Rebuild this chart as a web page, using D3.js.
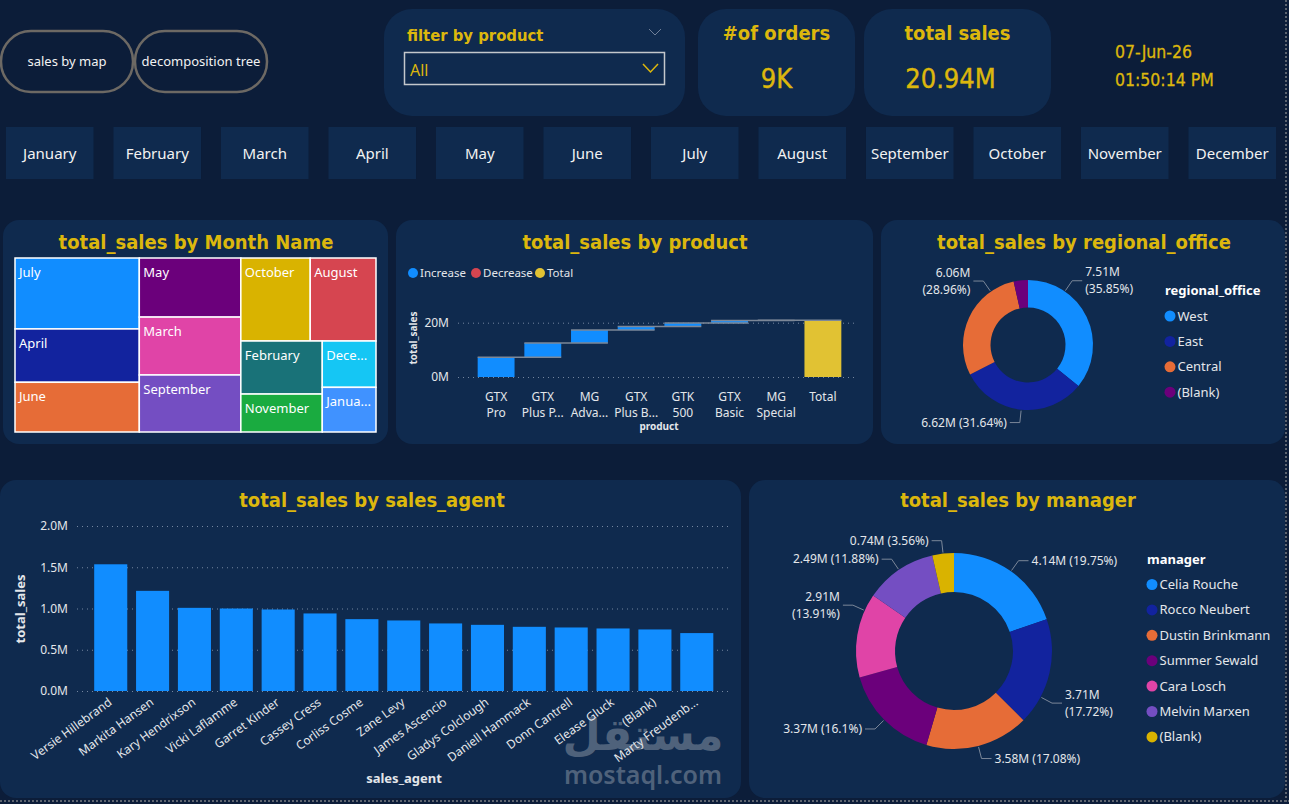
<!DOCTYPE html>
<html>
<head>
<meta charset="utf-8">
<script src="https://cdn.jsdelivr.net/npm/d3@7"></script>
<style>
  body { margin: 0; background: #0c1d39; overflow: hidden; }
  svg text { font-family: "Segoe UI", "Noto Sans", sans-serif; }
  svg text.din { font-family: "DejaVu Sans Condensed", "DejaVu Sans", sans-serif; font-stretch: condensed; }
</style>
</head>
<body>
<svg id="dash" width="1289" height="804"></svg>
<script>
// ---- data ----
const months = ["January", "February", "March", "April", "May", "June", "July",
                "August", "September", "October", "November", "December"];
const monthSales = [0.80, 1.44, 1.96, 2.21, 2.00, 2.06, 2.94, 1.82, 1.93, 1.92, 1.03, 0.83]; // M

const products = ["GTX Pro", "GTX Plus Pro", "MG Advanced", "GTX Plus Basic", "GTK 500", "GTX Basic", "MG Special"];
const productSales = [7.30, 5.24, 4.75, 1.34, 1.22, 0.97, 0.12]; // M

const offices = ["West", "East", "Central", "(Blank)"];
const officeSales = [7505600, 6624200, 6063100, 743100];

const managers = ["Celia Rouche", "Rocco Neubert", "Dustin Brinkmann", "Summer Sewald", "Cara Losch", "Melvin Marxen", "(Blank)"];
const managerSales = [4135700, 3710600, 3576600, 3371300, 2912800, 2487700, 744800];

const agents = ["Versie Hillebrand", "Markita Hansen", "Kary Hendrixson", "Vicki Laflamme", "Garret Kinder",
                "Cassey Cress", "Corliss Cosme", "Zane Levy", "James Ascencio", "Gladys Colclough",
                "Daniell Hammack", "Donn Cantrell", "Elease Gluck", "(Blank)", "Marty Freudenb..."];
const agentSales = [1.536, 1.214, 1.008, 1.000, 0.988, 0.940, 0.871, 0.855, 0.819, 0.802, 0.778, 0.770, 0.758, 0.746, 0.702]; // M

const agentTicks = [0, 0.5, 1.0, 1.5, 2.0];
const productTicks = [0, 20];

const palette = ["#118DFF", "#12239E", "#E66C37", "#6B007B", "#E044A7", "#744EC2",
                 "#D9B300", "#D64550", "#197278", "#1AAB40", "#15C6F4", "#4092FF"];

const PANEL = "#0f2a4e";
const GOLD = "#dcb70d";
const TXT = "#e3e6ea";
const GRID = "#7486a0";

const svg = d3.select("#dash");

function panel(x, y, w, h, r) {
    svg.append("rect").attr("x", x).attr("y", y).attr("width", w).attr("height", h)
        .attr("rx", r).attr("fill", PANEL);
}

function title(cx, y, str) {
    svg.append("text").attr("class", "din").attr("x", cx).attr("y", y)
        .attr("text-anchor", "middle").attr("font-size", 20).attr("font-weight", "bold")
        .attr("fill", GOLD).text(str);
}

// shorten a label until it fits
function fitText(sel, str, maxW) {
    sel.text(str);
    if (sel.node().getComputedTextLength() <= maxW) return;
    let s = str;
    while (s.length > 1) {
        s = s.slice(0, -1);
        sel.text(s.trimEnd() + "...");
        if (sel.node().getComputedTextLength() <= maxW) return;
    }
}

function measure(str, size) {
    const t = svg.append("text").attr("font-size", size).text(str);
    const w = t.node().getComputedTextLength();
    t.remove();
    return w;
}

// ---- top bar ----
[["sales by map", 1], ["decomposition tree", 135]].forEach(([label, x]) => {
    svg.append("rect").attr("x", x).attr("y", 31).attr("width", 132).attr("height", 61)
        .attr("rx", 30).attr("fill", "none").attr("stroke", "#6d6964").attr("stroke-width", 2.5);
    svg.append("text").attr("x", x + 66).attr("y", 66).attr("text-anchor", "middle")
        .attr("font-size", 13).attr("fill", "#f2f2f2").text(label);
});

panel(384, 9, 301, 107, 28);
svg.append("text").attr("class", "din").attr("x", 407).attr("y", 41).attr("font-size", 16.5)
    .attr("font-weight", "bold").attr("fill", GOLD).text("filter by product");
svg.append("path").attr("d", "M649,29 L655,35 L661,29").attr("fill", "none")
    .attr("stroke", "#6f7f98").attr("stroke-width", 1);
svg.append("rect").attr("x", 404.5).attr("y", 52.5).attr("width", 260).attr("height", 32)
    .attr("fill", "none").attr("stroke", "#c4c8cc").attr("stroke-width", 1.5);
svg.append("text").attr("x", 410).attr("y", 76).attr("font-size", 16).attr("fill", GOLD).text("All");
svg.append("path").attr("d", "M643,64 L650.5,72 L658,64").attr("fill", "none")
    .attr("stroke", GOLD).attr("stroke-width", 1.5);

[["#of orders", "9K", 698, 157], ["total sales", "20.94M", 864, 187]].forEach(([t, v, x, w]) => {
    panel(x, 9, w, 107, 28);
    svg.append("text").attr("class", "din").attr("x", x + w / 2).attr("y", 40).attr("text-anchor", "middle")
        .attr("font-size", 20).attr("font-weight", "bold").attr("fill", GOLD).text(t);
    svg.append("text").attr("class", "din").attr("x", x + w / 2 - (v.length > 3 ? 7 : 0)).attr("y", 88)
        .attr("text-anchor", "middle").attr("font-size", 27).attr("fill", GOLD)
        .attr("stroke", GOLD).attr("stroke-width", 0.4).text(v);
});

svg.append("text").attr("class", "din").attr("x", 1115).attr("y", 58).attr("font-size", 17.5)
    .attr("fill", GOLD).attr("stroke", GOLD).attr("stroke-width", 0.3).text("07-Jun-26");
svg.append("text").attr("class", "din").attr("x", 1115).attr("y", 86).attr("font-size", 17.5)
    .attr("fill", GOLD).attr("stroke", GOLD).attr("stroke-width", 0.3).text("01:50:14 PM");

// month slicer
const xMonth = d3.scaleBand().domain(months).range([6, 1276]).paddingInner(0.186);
svg.selectAll(".mtile").data(months).enter().append("rect")
    .attr("x", d => xMonth(d)).attr("y", 127).attr("width", xMonth.bandwidth()).attr("height", 52)
    .attr("fill", PANEL);
svg.selectAll(".mlab").data(months).enter().append("text")
    .attr("x", d => xMonth(d) + xMonth.bandwidth() / 2).attr("y", 159).attr("text-anchor", "middle")
    .attr("font-size", 15).attr("fill", "#f2f2f2").text(d => d);

// dotted canvas edges
svg.append("line").attr("x1", 1286).attr("x2", 1286).attr("y1", 0).attr("y2", 804)
    .attr("stroke", "#5d6470").attr("stroke-width", 2).attr("stroke-dasharray", "2,2");
svg.append("line").attr("x1", 0).attr("x2", 1289).attr("y1", 801).attr("y2", 801)
    .attr("stroke", "#5d6470").attr("stroke-width", 2).attr("stroke-dasharray", "2,2");

// ---- treemap: total_sales by Month Name ----
panel(3, 220, 385, 224, 16);
title(196, 249, "total_sales by Month Name");

const monthRank = months.slice().sort((a, b) => monthSales[months.indexOf(b)] - monthSales[months.indexOf(a)]);
const monthColor = d3.scaleOrdinal().domain(monthRank).range(palette);

const root = d3.hierarchy({ children: months.map((m, i) => ({ name: m, value: monthSales[i] })) })
    .sum(d => d.value || 0)
    .sort((a, b) => b.value - a.value);
d3.treemap().size([361, 174]).tile(d3.treemapSquarify)(root);

const tm = svg.append("g").attr("transform", "translate(15,258)");
const cells = tm.selectAll("g").data(root.leaves()).enter().append("g")
    .attr("transform", d => `translate(${d.x0},${d.y0})`);
cells.append("rect").attr("width", d => d.x1 - d.x0).attr("height", d => d.y1 - d.y0)
    .attr("fill", d => monthColor(d.data.name)).attr("stroke", "#ffffff").attr("stroke-width", 1.5);
cells.append("text").attr("x", 4).attr("y", 19).attr("font-size", 13).attr("fill", "#ffffff")
    .each(function (d) { fitText(d3.select(this), d.data.name, d.x1 - d.x0 - 8); });

// ---- waterfall: total_sales by product ----
panel(396, 220, 477, 224, 16);
title(635, 249, "total_sales by product");

[["Increase", "#118DFF", 413], ["Decrease", "#D64550", 476], ["Total", "#E1C233", 540]].forEach(([l, c, x]) => {
    svg.append("circle").attr("cx", x).attr("cy", 273).attr("r", 5).attr("fill", c);
    svg.append("text").attr("x", x + 7).attr("y", 277).attr("font-size", 11.5).attr("fill", TXT).text(l);
});

const wfCats = products.concat(["Total"]);
const xW = d3.scaleBand().domain(wfCats).range([473, 846]).paddingInner(0.21).paddingOuter(0.1);
const yW = d3.scaleLinear().domain([0, 20]).range([377, 322.7]);

svg.append("g").attr("transform", "translate(458,0)")
    .call(d3.axisLeft(yW).tickValues(productTicks).tickFormat(d => d + "M").tickSize(-399).tickPadding(9))
    .call(g => g.select(".domain").remove())
    .call(g => g.selectAll("line").attr("stroke", GRID).attr("stroke-dasharray", "1,4"))
    .call(g => g.selectAll("text").attr("fill", TXT).attr("font-size", 12)
        .style("font-family", '"Segoe UI","Noto Sans",sans-serif'));

let run = 0;
const steps = products.map((p, i) => {
    const s = { cat: p, start: run, end: run + productSales[i], color: "#118DFF" };
    run += productSales[i];
    return s;
});
steps.push({ cat: "Total", start: 0, end: run, color: "#E1C233" });

svg.selectAll(".wf").data(steps).enter().append("rect")
    .attr("x", d => xW(d.cat)).attr("width", xW.bandwidth())
    .attr("y", d => yW(Math.max(d.start, d.end)))
    .attr("height", d => Math.abs(yW(d.start) - yW(d.end)))
    .attr("fill", d => d.color);

svg.selectAll(".wfc").data(steps.slice(0, -1)).enter().append("line")
    .attr("x1", d => xW(d.cat))
    .attr("x2", (d, i) => xW(steps[i + 1].cat) + xW.bandwidth())
    .attr("y1", d => yW(d.end)).attr("y2", d => yW(d.end))
    .attr("stroke", "#7d8898").attr("stroke-width", 1.5);

wfCats.forEach(c => {
    const cx = xW(c) + xW.bandwidth() / 2;
    const words = c.split(" ");
    svg.append("text").attr("x", cx).attr("y", 401).attr("text-anchor", "middle")
        .attr("font-size", 12).attr("fill", TXT).text(words[0]);
    if (words.length > 1) {
        const t = svg.append("text").attr("x", cx).attr("y", 417).attr("text-anchor", "middle")
            .attr("font-size", 12).attr("fill", TXT);
        fitText(t, words.slice(1).join(" "), xW.step() - 2);
    }
});
svg.append("text").attr("x", 659).attr("y", 430).attr("text-anchor", "middle").attr("font-size", 10)
    .attr("font-weight", "bold").attr("fill", TXT).text("product");
svg.append("text").attr("transform", "translate(417,338) rotate(-90)").attr("text-anchor", "middle")
    .attr("font-size", 10).attr("font-weight", "bold").attr("fill", TXT).text("total_sales");

// ---- donuts ----
const fmtM = v => (v / 1e6).toFixed(2) + "M";
const fmtP = d3.format(".2~f");

function donut(o) {
    const total = d3.sum(o.values);
    const arcs = d3.pie().sort(null)(o.values);
    const arc = d3.arc().innerRadius(o.r).outerRadius(o.R);
    const g = svg.append("g").attr("transform", `translate(${o.cx},${o.cy})`);
    g.selectAll("path").data(arcs).enter().append("path")
        .attr("d", arc).attr("fill", (d, i) => o.colors[i]);

    const pt = (a, rad) => [o.cx + rad * Math.sin(a), o.cy - rad * Math.cos(a)];
    arcs.forEach(d => {
        let a = (d.startAngle + d.endAngle) / 2;
        const right = Math.sin(a) >= 0;
        const v1 = fmtM(d.value), v2 = "(" + fmtP(d.value / total * 100) + "%)";
        const full = v1 + " " + v2;
        const w = measure(full, 12);
        let p2 = pt(a, o.R + 13);
        let tx = p2[0] + (right ? 13 : -13);
        const wrap = right ? tx + w > o.legendX - 4 : tx - w < o.panelX + 15;
        if (wrap) {
            const upper = Math.cos(a) > 0;
            a += (right === upper ? -1 : 1) * o.shift * Math.PI / 180;
            p2 = pt(a, o.R + 13);
            tx = p2[0] + (right ? 13 : -13);
        }
        const top = wrap ? p2[1] - 16 : p2[1] - 7;
        if (top < o.areaTop) return;
        const p1 = pt(a, o.R + 1);
        const p3 = [p2[0] + (right ? 10 : -10), p2[1]];
        svg.append("polyline").attr("points", [p1, p2, p3].map(p => p.join(",")).join(" "))
            .attr("fill", "none").attr("stroke", "#7b8799").attr("stroke-width", 1);
        const anchor = right ? "start" : "end";
        const lines = wrap ? [[v1, -8.5], [v2, 8.5]] : [[full, 0]];
        lines.forEach(([s, dy]) => {
            svg.append("text").attr("x", tx).attr("y", p2[1] + dy).attr("dy", "0.35em")
                .attr("text-anchor", anchor).attr("font-size", 12).attr("fill", TXT).text(s);
        });
    });

    svg.append("text").attr("x", o.legendX).attr("y", o.legendY - 21).attr("font-size", 13)
        .attr("font-weight", "bold").attr("fill", "#ffffff").text(o.legendTitle);
    o.names.forEach((n, i) => {
        const y = o.legendY + i * 25.4;
        svg.append("circle").attr("cx", o.legendX + 5).attr("cy", y).attr("r", 5.5).attr("fill", o.colors[i]);
        svg.append("text").attr("x", o.legendX + 12.5).attr("y", y).attr("dy", "0.35em")
            .attr("font-size", 13).attr("fill", TXT).text(n);
    });
}

panel(881, 220, 404, 224, 16);
title(1084, 249, "total_sales by regional_office");
donut({
    cx: 1028, cy: 345, R: 65, r: 37.5, values: officeSales, names: offices,
    colors: ["#118DFF", "#12239E", "#E66C37", "#6B007B"],
    legendX: 1165, legendY: 316, legendTitle: "regional_office",
    panelX: 881, areaTop: 261, shift: 30
});

// ---- bar chart: total_sales by sales_agent ----
panel(0, 480, 741, 318, 16);
title(372, 507, "total_sales by sales_agent");

const xA = d3.scaleBand().domain(agents).range([90, 717.5]).paddingInner(0.21).paddingOuter(0.1);
const yA = d3.scaleLinear().domain([0, 2]).range([691, 526]);

svg.append("g").attr("transform", "translate(77,0)")
    .call(d3.axisLeft(yA).tickValues(agentTicks).tickFormat(d => d.toFixed(1) + "M").tickSize(-651).tickPadding(9))
    .call(g => g.select(".domain").remove())
    .call(g => g.selectAll("line").attr("stroke", GRID).attr("stroke-dasharray", "1,4"))
    .call(g => g.selectAll("text").attr("fill", TXT).attr("font-size", 12)
        .style("font-family", '"Segoe UI","Noto Sans",sans-serif'));

svg.selectAll(".abar").data(agents).enter().append("rect")
    .attr("x", d => xA(d)).attr("width", xA.bandwidth())
    .attr("y", (d, i) => yA(agentSales[i])).attr("height", (d, i) => yA(0) - yA(agentSales[i]))
    .attr("fill", "#118DFF");

// watermark (behind the axis labels)
svg.append("text").attr("x", 643).attr("y", 750).attr("text-anchor", "middle")
    .attr("font-size", 44).attr("font-weight", "bold").attr("fill", "#6b7a8f").attr("opacity", 0.7)
    .style("font-family", '"DejaVu Sans",sans-serif').text("مستقل");
svg.append("text").attr("x", 643).attr("y", 784).attr("text-anchor", "middle")
    .attr("font-size", 25).attr("font-weight", 600).attr("fill", "#6b7a8f").attr("opacity", 0.7)
    .text("mostaql.com");

svg.selectAll(".alab").data(agents).enter().append("text")
    .attr("transform", d => `translate(${xA(d) + xA.bandwidth() / 2 + 2},704) rotate(-36)`)
    .attr("text-anchor", "end").attr("font-size", 12).attr("fill", TXT).text(d => d);

svg.append("text").attr("x", 404).attr("y", 783).attr("text-anchor", "middle").attr("font-size", 13)
    .attr("font-weight", "bold").attr("fill", TXT).text("sales_agent");
svg.append("text").attr("transform", "translate(25,609) rotate(-90)").attr("text-anchor", "middle")
    .attr("font-size", 13).attr("font-weight", "bold").attr("fill", TXT).text("total_sales");

// ---- manager donut ----
panel(749, 480, 536, 318, 16);
title(1018, 507, "total_sales by manager");
donut({
    cx: 954, cy: 651, R: 98, r: 59, values: managerSales, names: managers,
    colors: ["#118DFF", "#12239E", "#E66C37", "#6B007B", "#E044A7", "#744EC2", "#D9B300"],
    legendX: 1147, legendY: 584.5, legendTitle: "manager",
    panelX: 749, areaTop: 519, shift: 15
});
</script>
</body>
</html>
